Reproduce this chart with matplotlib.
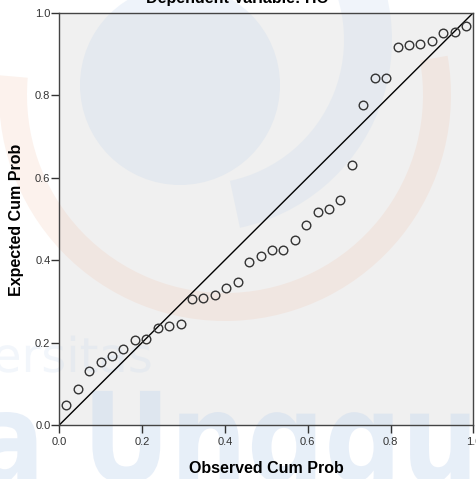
import matplotlib
matplotlib.use('Agg')
import matplotlib.pyplot as plt
from matplotlib.patches import Circle, Wedge, PathPatch
from matplotlib.textpath import TextPath
from matplotlib.font_manager import FontProperties
from matplotlib.transforms import Affine2D

plt.rcParams['font.family'] = ['Liberation Sans', 'DejaVu Sans']

# P-P plot data
observed_cum_prob = [0.017, 0.045, 0.072, 0.100, 0.128, 0.155, 0.183, 0.210, 0.238,
                     0.266, 0.293, 0.321, 0.348, 0.376, 0.403, 0.431, 0.459, 0.486,
                     0.514, 0.541, 0.569, 0.597, 0.624, 0.652, 0.679, 0.707, 0.734,
                     0.762, 0.790, 0.817, 0.845, 0.872, 0.900, 0.928, 0.955, 0.983]
expected_cum_prob = [0.048, 0.087, 0.130, 0.153, 0.167, 0.185, 0.205, 0.209, 0.235,
                     0.241, 0.246, 0.306, 0.309, 0.315, 0.332, 0.346, 0.396, 0.411,
                     0.425, 0.425, 0.449, 0.485, 0.517, 0.525, 0.546, 0.631, 0.776,
                     0.842, 0.842, 0.917, 0.922, 0.925, 0.932, 0.951, 0.952, 0.968]
ref_line = [0.0, 1.0]
ticks = [0.0, 0.2, 0.4, 0.6, 0.8, 1.0]
tick_labels = ['0.0', '0.2', '0.4', '0.6', '0.8', '1.0']

W, H, DPI = 477, 479, 100
fig = plt.figure(figsize=(W / DPI, H / DPI), dpi=DPI, facecolor='white')
ax = fig.add_axes([59.3 / W, 54 / H, 414 / W, 412.3 / H])
ax.set_facecolor('#f0f0f0')

# pixel transform (origin top-left like the picture)
px = Affine2D().scale(1 / DPI, -1 / DPI).translate(0, H / DPI) + fig.dpi_scale_trans

# faint watermark behind the data
blue = '#c5d7ef'
orange = '#f0c0a6'
wm = [
    Circle((180, 85), 100, facecolor=blue, edgecolor='none', alpha=0.28),
    Wedge((200, 40), 192, -35, 78, width=48, facecolor=blue, edgecolor='none', alpha=0.25),
    Wedge((225, 95), 226, -10, 185, width=28, facecolor=orange, edgecolor='none', alpha=0.2),
]
for p in wm:
    p.set_transform(px)
    p.set_clip_on(False)
    p.set_zorder(0.5)
    ax.add_artist(p)

tp = TextPath((0, 0), 'a Unggul', size=1, prop=FontProperties(family='DejaVu Sans', weight='bold'))
tp_tr = Affine2D().scale(108, -125).translate(-28, 482)
big = PathPatch(tp_tr.transform_path(tp), facecolor=blue, edgecolor='none', alpha=0.4,
                transform=px, clip_on=False, zorder=0.5)
ax.add_artist(big)
tp2 = TextPath((0, 0), 'ersitas', size=1, prop=FontProperties(family='DejaVu Sans'))
small = PathPatch(Affine2D().scale(48, -48).translate(-8, 372).transform_path(tp2),
                  facecolor=blue, edgecolor='none', alpha=0.22, transform=px,
                  clip_on=False, zorder=0.5)
ax.add_artist(small)

ax.plot(ref_line, ref_line, color='black', lw=1.0, zorder=2)
ax.plot(observed_cum_prob, expected_cum_prob, linestyle='none', marker='o',
        markersize=6.2, markerfacecolor='none', markeredgecolor='#333333',
        markeredgewidth=1.0, zorder=3)

ax.set_xlim(0, 1)
ax.set_ylim(0, 1)
ax.set_xticks(ticks)
ax.set_xticklabels(tick_labels)
ax.set_yticks(ticks)
ax.set_yticklabels(tick_labels)
ax.tick_params(axis='both', direction='out', length=5.8, width=1.0, color='#333333',
               labelsize=8, labelcolor='#333333')
ax.tick_params(axis='x', pad=2.6)
ax.tick_params(axis='y', pad=0.6)
for s in ax.spines.values():
    s.set_color('#444444')
    s.set_linewidth(1.0)

ax.set_xlabel('Observed Cum Prob', fontsize=11.5, fontweight='bold', va='center')
ax.xaxis.set_label_coords(0.501, -0.105)
ax.set_ylabel('Expected Cum Prob', fontsize=11.5, fontweight='bold', va='center')
ax.yaxis.set_label_coords(-0.103, 0.497)

fig.text(236.7 / W, 1 - 3.5 / H, 'Dependent Variable: HC', ha='center', va='baseline',
         fontsize=11.5, fontweight='bold')

fig.savefig('out.png', dpi=DPI, facecolor='white')
